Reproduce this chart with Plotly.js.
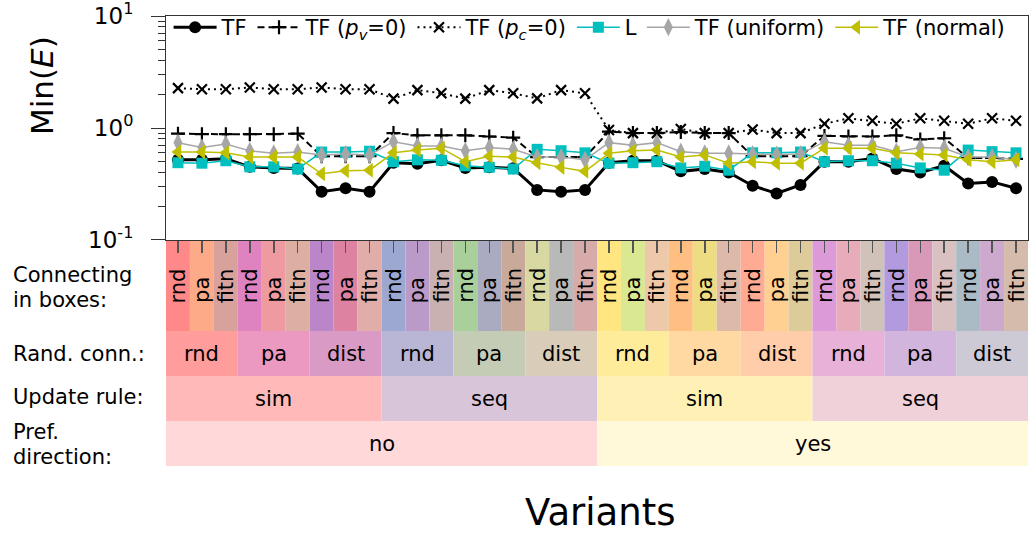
<!DOCTYPE html>
<html><head><meta charset="utf-8">
<script src="https://cdn.plot.ly/plotly-3.0.1.min.js"></script>
<style>html,body{margin:0;padding:0;background:#fff}#chart{width:1030px;height:533px}</style>
</head><body><div id="chart"></div>
<script>
// ---------- data ----------
const connBoxes = ['rnd','pa','fitn','rnd','pa','fitn','rnd','pa','fitn','rnd','pa','fitn',
                   'rnd','pa','fitn','rnd','pa','fitn','rnd','pa','fitn','rnd','pa','fitn',
                   'rnd','pa','fitn','rnd','pa','fitn','rnd','pa','fitn','rnd','pa','fitn'];
const randConn = ['rnd','pa','dist','rnd','pa','dist','rnd','pa','dist','rnd','pa','dist'];
const updateRule = ['sim','seq','sim','seq'];
const prefDir = ['no','yes'];

const seriesNames = ['TF','TF (<i>p</i><sub><i>v</i></sub>=0)','TF (<i>p</i><sub><i>c</i></sub>=0)','L','TF (uniform)','TF (normal)'];

const tf = [0.52,0.52,0.53,0.45,0.44,0.435,0.27,0.29,0.27,
            0.49,0.48,0.515,0.44,0.445,0.437,0.28,0.27,0.28,
            0.49,0.51,0.51,0.41,0.43,0.40,0.305,0.26,0.31,
            0.50,0.50,0.535,0.43,0.40,0.46,0.32,0.33,0.29];
const tfPv0 = [0.89,0.88,0.88,0.88,0.88,0.89,0.56,0.56,0.56,
               0.90,0.86,0.86,0.86,0.84,0.82,0.55,0.55,0.55,
               0.93,0.90,0.90,0.92,0.90,0.90,0.56,0.56,0.56,
               0.85,0.84,0.84,0.86,0.79,0.81,0.54,0.54,0.53];
const tfPc0 = [2.27,2.22,2.22,2.30,2.22,2.22,2.30,2.22,2.22,
               1.83,2.18,2.04,1.83,2.18,2.04,1.84,2.18,2.04,
               0.96,0.90,0.90,0.98,0.90,0.90,0.97,0.90,0.90,
               1.09,1.22,1.16,1.09,1.22,1.16,1.09,1.22,1.16];
const lVals = [0.49,0.485,0.51,0.45,0.45,0.43,0.61,0.61,0.62,
               0.50,0.52,0.515,0.46,0.446,0.43,0.645,0.627,0.60,
               0.485,0.49,0.50,0.44,0.455,0.42,0.60,0.60,0.61,
               0.50,0.51,0.51,0.485,0.44,0.42,0.635,0.615,0.60];
const tfUniform = [0.74,0.67,0.72,0.625,0.595,0.61,0.575,0.585,0.575,
                   0.755,0.69,0.69,0.625,0.67,0.645,0.55,0.55,0.52,
                   0.74,0.70,0.74,0.615,0.595,0.595,0.585,0.58,0.585,
                   0.755,0.70,0.70,0.615,0.67,0.66,0.55,0.55,0.52];
const tfNormal = [0.61,0.61,0.60,0.55,0.55,0.55,0.39,0.415,0.42,
                  0.60,0.635,0.66,0.50,0.56,0.55,0.49,0.445,0.41,
                  0.595,0.625,0.635,0.55,0.575,0.485,0.50,0.485,0.485,
                  0.66,0.66,0.66,0.60,0.585,0.575,0.52,0.50,0.52];

const yTickVals = [0.1, 1, 10];
const yTickText = ['10<sup>-1</sup>','10<sup>0</sup>','10<sup>1</sup>'];
const yMinorVals = [0.2,0.3,0.4,0.5,0.6,0.7,0.8,0.9,2,3,4,5,6,7,8,9];

// ---------- styles ----------
const connColors = ['#FF8888','#FDAA88','#D9A19B','#DE82C0','#EE9AA0','#DDAFA2','#BB86C9','#DE82A2','#E0ADA8',
                    '#9CA8D0','#BB9AC9','#C9B1B1','#A9D09B','#AAAAC0','#C9A99A','#D8D8A2','#B9B9B9','#D8ABAB',
                    '#FFE680','#D9E891','#EEC9A9','#FFBF82','#EEDC82','#DDB9AA','#FFAA92','#FFD091','#DDCC9A',
                    '#DD9AD8','#E8ABB9','#D0C1B9','#B19ADD','#D899B9','#D9C1C1','#ABBBC5','#CDA9CD','#D5BBAB'];
const randColors = ['#FF9C9C','#EB99C1','#D99BC5','#B9B5D5','#C5CCB5','#D9CDB9',
                    '#FFEC9B','#FFD9A1','#FFCDA9','#E8B1D8','#D1B5DD','#CDC9D5'];
const updateColors = ['#FFB9B9','#D9C5D9','#FFF1B5','#F1D1D9'];
const prefColors = ['#FFD9D9','#FFF8D9'];

const FONT = 'DejaVu Sans, Verdana, sans-serif';
const PL = 166, PR = 1028, PT = 16, PB = 240;
const px2x = p => (p - PL) / (PR - PL);
const py2y = p => (PB - p) / (PB - PT);

const xIdx = connBoxes.map((_, i) => i);
const yRange = [-1.0003, 1.0003];

const traces = [
  {y: tf, name: seriesNames[0], line:{color:'#000', width:3}, marker:{symbol:'circle', size:12, color:'#000'}},
  {y: tfPv0, name: seriesNames[1], line:{color:'#000', width:2, dash:'7px,4px'}, marker:{symbol:'cross-thin-open', size:10, color:'#000', line:{width:2.2, color:'#000'}}},
  {y: tfPc0, name: seriesNames[2], line:{color:'#000', width:2, dash:'2px,4px'}, marker:{symbol:'x-thin-open', size:10, color:'#000', line:{width:2.2, color:'#000'}}},
  {y: lVals, name: seriesNames[3], line:{color:'#00BFBF', width:1.5}, marker:{symbol:'square', size:11, color:'#00BFBF'}},
  {y: tfUniform, name: seriesNames[4], line:{color:'#A6A6A6', width:1.5}, marker:{symbol:'diamond-tall', size:13, color:'#A6A6A6'}},
  {y: tfNormal, name: seriesNames[5], line:{color:'#BFBF00', width:1.5}, marker:{symbol:'triangle-left', size:13, color:'#BFBF00'}}
].map(t => Object.assign({x: xIdx, type:'scatter', mode:'lines+markers', cliponaxis:false}, t));
// carrier for the minor-tick overlay axis
traces.push({x:[null], y:[null], yaxis:'y2', type:'scatter', mode:'markers', showlegend:false, hoverinfo:'skip'});

// ---------- table shapes & labels ----------
const shapes = [];
const annotations = [];
const rows = [
  {labels: connBoxes, colors: connColors, span: 1, top: 241, bot: 331},
  {labels: randConn, colors: randColors, span: 3, top: 331, bot: 376},
  {labels: updateRule, colors: updateColors, span: 9, top: 376, bot: 421},
  {labels: prefDir, colors: prefColors, span: 18, top: 421, bot: 466}
];
rows.forEach((r, ri) => {
  r.labels.forEach((lab, j) => {
    const x0 = j * r.span - 0.5, x1 = (j + 1) * r.span - 0.5;
    shapes.push({type:'rect', xref:'x', yref:'paper', x0, x1: (x1 >= 35.5 ? x1 + 0.1 : x1),
      y0: py2y(r.bot), y1: py2y(r.top), fillcolor: r.colors[j], line:{width:0}, layer:'below'});
    if (ri === 0) {
      annotations.push({xref:'x', yref:'paper', x: j, y: py2y(305), yanchor:'bottom', xanchor:'center',
        text: lab, textangle:-90, showarrow:false, font:{family:FONT, size:21, color:'#000'}});
    } else {
      annotations.push({xref:'x', yref:'paper', x: (x0 + x1) / 2, y: py2y((r.top + r.bot) / 2),
        yanchor:'middle', xanchor:'center', text: lab, showarrow:false, font:{family:FONT, size:21, color:'#000'}});
    }
  });
});
const rowLabels = [['Connecting', 275], ['in boxes:', 300], ['Rand. conn.:', 354], ['Update rule:', 397], ['Pref.', 432], ['direction:', 457]];
rowLabels.forEach(([t, py]) => annotations.push({xref:'paper', yref:'paper', x: px2x(11), y: py2y(py),
  xanchor:'left', yanchor:'middle', text: t, showarrow:false, font:{family:FONT, size:21, color:'#000'}}));

annotations.push({xref:'paper', yref:'paper', x: px2x(42), y: py2y(86), xanchor:'center', yanchor:'middle',
  text:'Min(<i>E</i>)', textangle:-90, showarrow:false, font:{family:FONT, size:31, color:'#000'}});
annotations.push({xref:'paper', yref:'paper', x: px2x(600), y: py2y(512), xanchor:'center', yanchor:'middle',
  text:'Variants', showarrow:false, font:{family:FONT, size:37, color:'#000'}});

const layout = {
  width: 1030, height: 533,
  margin: {l: PL, r: 1030 - PR, t: PT, b: 533 - PB, pad: 0},
  paper_bgcolor: '#fff', plot_bgcolor: '#fff',
  font: {family: FONT, color: '#000'},
  showlegend: true,
  legend: {orientation:'h', x: 0.003, y: 1.04, xanchor:'left', yanchor:'top', bgcolor:'rgba(0,0,0,0)',
           font:{family:FONT, size:21, color:'#000'}, itemwidth:43, tracegroupgap:0},
  xaxis: {range: [-0.5, 35.5], tickvals: xIdx, showticklabels:false, ticks:'outside', ticklen:12,
          tickwidth:1.5, tickcolor:'#555', showline:true, mirror:true, linecolor:'#333', linewidth:1,
          showgrid:false, zeroline:false, fixedrange:true},
  yaxis: {type:'log', range: yRange, tickmode:'array', tickvals: yTickVals, ticktext: yTickText,
          ticks:'outside', ticklen:14, tickwidth:1, tickcolor:'#333', ticklabelstandoff: 13,
          ticklabeloverflow:'allow',
          tickfont:{family:FONT, size:23, color:'#000'},
          showline:true, mirror:true, linecolor:'#333', linewidth:1, showgrid:false, zeroline:false, fixedrange:true},
  yaxis2: {type:'log', range: yRange, overlaying:'y', anchor:'x', side:'left', tickmode:'array', tickvals: yMinorVals,
           ticks:'outside', ticklen:7, tickwidth:1, tickcolor:'#333', showticklabels:false,
           showline:false, showgrid:false, zeroline:false, fixedrange:true},
  shapes, annotations
};
Plotly.newPlot('chart', traces, layout, {displayModeBar:false, staticPlot:true});
</script></body></html>
